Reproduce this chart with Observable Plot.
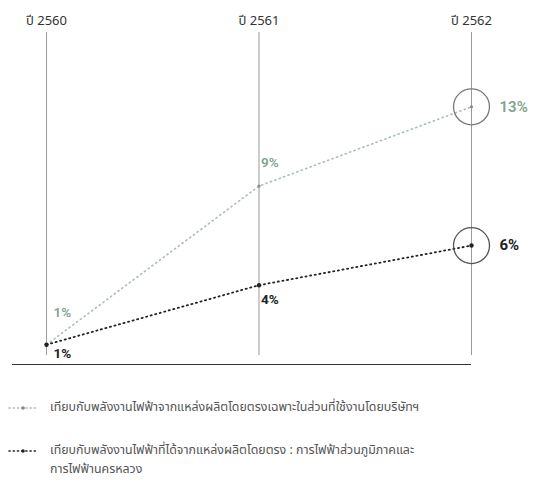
<!DOCTYPE html>
<html>
<head>
<meta charset="utf-8">
<script src="https://cdn.jsdelivr.net/npm/d3@7"></script>
<script src="https://cdn.jsdelivr.net/npm/@observablehq/plot@0.6"></script>
<style>
  body { margin: 0; background: #fff; font-family: "Noto Sans Thai", "Noto Sans", "DejaVu Sans", sans-serif; }
  #chart svg { display: block; }
  #legend { width: 538px; font-size: 12.4px; color: #555; padding-top: 18px; }
  .item { display: flex; align-items: flex-start; margin-left: 8px; margin-bottom: 24px; }
  .item svg { flex: none; margin-top: 5px; margin-right: 12px; }
  .item span { line-height: 19px; width: 420px; }
  .item.wrap span { width: 374px; }
</style>
</head>
<body>
<div id="chart"></div>
<div id="legend"></div>
<script>
const years = [2560, 2561, 2562];
const yearLabels = ["ปี 2560", "ปี 2561", "ปี 2562"];
const companyOnly = [1, 9, 13];   // green series
const pegMea = [1, 4, 6];         // black series
const seriesNames = [
  "เทียบกับพลังงานไฟฟ้าจากแหล่งผลิตโดยตรงเฉพาะในส่วนที่ใช้งานโดยบริษัทฯ",
  "เทียบกับพลังงานไฟฟ้าที่ได้จากแหล่งผลิตโดยตรง : การไฟฟ้าส่วนภูมิภาคและการไฟฟ้านครหลวง"
];

const green = years.map((y, i) => ({year: y, value: companyOnly[i]}));
const black = years.map((y, i) => ({year: y, value: pegMea[i]}));
const last = a => a.filter(d => d.year === 2562);
const at = (a, yr) => a.filter(d => d.year === yr);

const GREEN_LINE = "#a9bfb2";
const GREEN_TEXT = "#7fa38e";
const BLACK = "#222";
const fontLbl = "Roboto, 'Noto Sans', sans-serif";

const chart = Plot.plot({
  width: 538,
  height: 380,
  marginLeft: 46,
  marginRight: 67,
  marginTop: 32,
  marginBottom: 16,
  x: {domain: [2560, 2562], axis: null},
  y: {domain: [0, 16.75], axis: null},
  marks: [
    Plot.ruleX(years, {x: d => d, y1: 0.45, y2: 16.75, stroke: "#9a9a9a", strokeWidth: 1}),
    Plot.ruleY([0], {stroke: "#333", strokeWidth: 1.2, insetLeft: -34}),
    Plot.text(years, {x: d => d, text: (d, i) => yearLabels[i], frameAnchor: "top", dy: -17, fontSize: 13, fill: "#333", fontFamily: "'Noto Sans Thai', 'Noto Sans', sans-serif"}),
    Plot.line(green, {x: "year", y: "value", stroke: GREEN_LINE, strokeWidth: 1.6, strokeDasharray: "1.2,3.5", strokeLinecap: "round"}),
    Plot.line(black, {x: "year", y: "value", stroke: BLACK, strokeWidth: 1.8, strokeDasharray: "1.2,3.5", strokeLinecap: "round"}),
    Plot.dot(green, {x: "year", y: "value", r: 1.6, fill: "#888"}),
    Plot.dot(black, {x: "year", y: "value", r: 2.2, fill: BLACK}),
    Plot.dot(last(green), {x: "year", y: "value", r: 18, stroke: "#7a7a7a", strokeWidth: 1.3, fill: "none"}),
    Plot.dot(last(black), {x: "year", y: "value", r: 18, stroke: "#555", strokeWidth: 1.3, fill: "none"}),
    // green labels
    Plot.text(at(green, 2560), {x: "year", y: "value", text: d => d.value + "%", textAnchor: "start", dx: 7, dy: -32, fill: GREEN_TEXT, fontSize: 13.5, fontWeight: 600, fontFamily: fontLbl}),
    Plot.text(at(green, 2561), {x: "year", y: "value", text: d => d.value + "%", textAnchor: "start", dx: 2, dy: -23, fill: GREEN_TEXT, fontSize: 13.5, fontWeight: 600, fontFamily: fontLbl}),
    Plot.text(at(green, 2562), {x: "year", y: "value", text: d => d.value + "%", textAnchor: "start", dx: 28, fill: GREEN_TEXT, fontSize: 15, fontWeight: 600, fontFamily: fontLbl}),
    // black labels
    Plot.text(at(black, 2560), {x: "year", y: "value", text: d => d.value + "%", textAnchor: "start", dx: 7, dy: 9, fill: BLACK, fontSize: 13.5, fontWeight: 700, fontFamily: fontLbl}),
    Plot.text(at(black, 2561), {x: "year", y: "value", text: d => d.value + "%", textAnchor: "start", dx: 2, dy: 14, fill: BLACK, fontSize: 13.5, fontWeight: 700, fontFamily: fontLbl}),
    Plot.text(at(black, 2562), {x: "year", y: "value", text: d => d.value + "%", textAnchor: "start", dx: 28, fill: BLACK, fontSize: 15, fontWeight: 700, fontFamily: fontLbl})
  ]
});
document.getElementById("chart").appendChild(chart);

const legend = document.getElementById("legend");
const colors = [[GREEN_LINE, "#888"], [BLACK, BLACK]];
seriesNames.forEach((name, i) => {
  const item = document.createElement("div");
  item.className = i === 1 ? "item wrap" : "item";
  const ns = "http://www.w3.org/2000/svg";
  const svg = document.createElementNS(ns, "svg");
  svg.setAttribute("width", "30");
  svg.setAttribute("height", "10");
  const ln = document.createElementNS(ns, "line");
  ln.setAttribute("x1", "1"); ln.setAttribute("y1", "5");
  ln.setAttribute("x2", "29"); ln.setAttribute("y2", "5");
  ln.setAttribute("stroke", colors[i][0]);
  ln.setAttribute("stroke-width", "1.5");
  ln.setAttribute("stroke-dasharray", "1.2,3");
  ln.setAttribute("stroke-linecap", "round");
  const c = document.createElementNS(ns, "circle");
  c.setAttribute("cx", "15"); c.setAttribute("cy", "5"); c.setAttribute("r", "1.8");
  c.setAttribute("fill", colors[i][1]);
  svg.appendChild(ln); svg.appendChild(c);
  const span = document.createElement("span");
  span.textContent = name;
  item.appendChild(svg);
  item.appendChild(span);
  legend.appendChild(item);
});
</script>
</body>
</html>
